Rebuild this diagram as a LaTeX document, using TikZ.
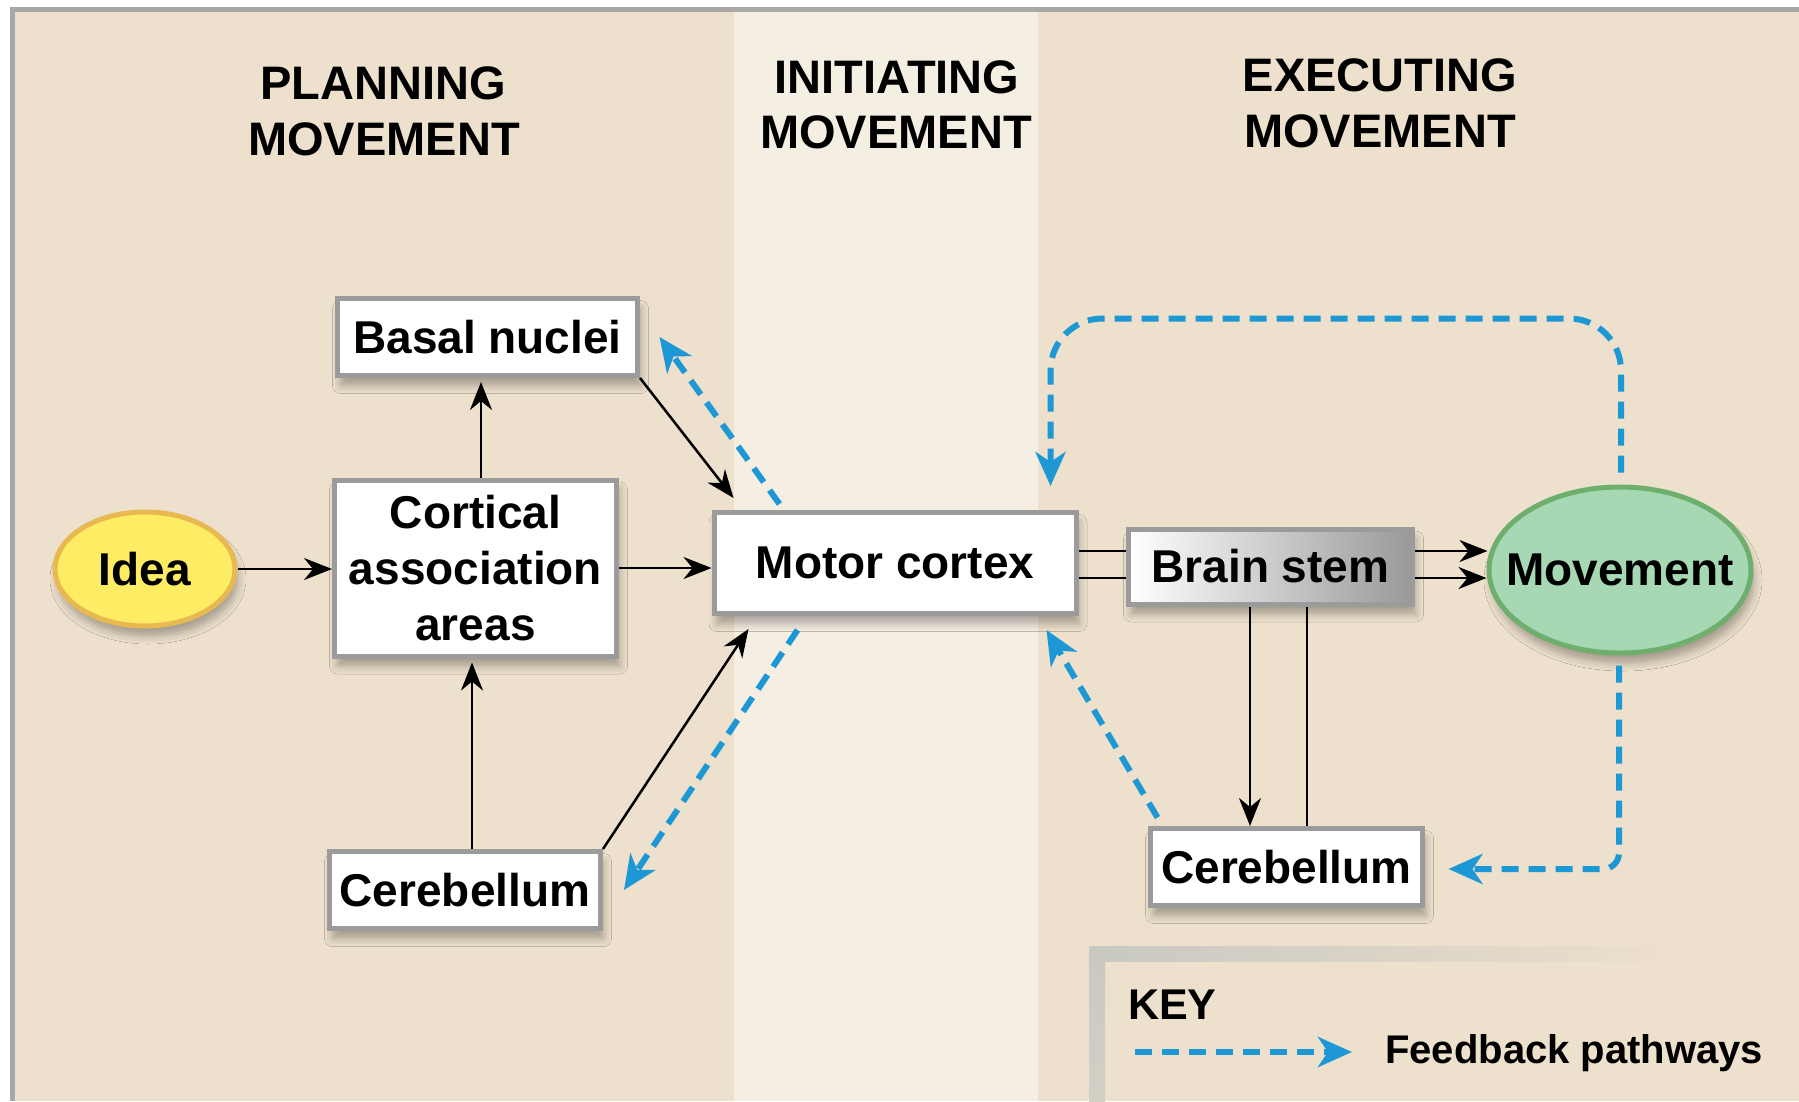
\documentclass[tikz,border=0pt]{standalone}
\usepackage{fontspec}
\setmainfont{Liberation Sans}
\usetikzlibrary{arrows.meta,calc,shapes.geometric,shadows.blur}
\definecolor{beige}{RGB}{237,224,204}
\definecolor{midpanel}{RGB}{245,238,226}
\definecolor{framegray}{RGB}{168,168,168}
\definecolor{boxgray}{RGB}{155,155,155}
\definecolor{fbblue}{RGB}{30,152,212}
\definecolor{ideafill}{RGB}{253,236,100}
\definecolor{ideaborder}{RGB}{232,185,80}
\definecolor{movefill}{RGB}{166,216,180}
\definecolor{moveborder}{RGB}{110,175,110}
\definecolor{keygray}{RGB}{200,200,194}
\begin{document}
\begin{tikzpicture}[x=1pt,y=-1pt,
  nodefont/.style={font=\bfseries\fontsize{46}{56}\selectfont},
  headfont/.style={font=\bfseries\fontsize{47}{56}\selectfont},
  shad/.style={blur shadow={shadow xshift=3pt,shadow yshift=-10pt,shadow blur radius=8pt,shadow opacity=30}},
  boxnode/.style={draw=boxgray,line width=5pt,fill=white,inner sep=0pt,nodefont,align=center,shad},
  arr/.style={black,line width=2.5pt,-{Stealth[length=28pt,width=22pt,inset=9pt]}},
  plainline/.style={black,line width=2.5pt},
  fb/.style={fbblue,line width=6pt,dash pattern=on 17pt off 10pt,-{Stealth[length=34pt,width=30pt,inset=10pt]}},
  headnode/.style={headfont,anchor=base,inner sep=0pt}
]
\useasboundingbox (0,0) rectangle (1799,1101);
% background
\fill[white] (0,0) rectangle (1799,1101);
\fill[beige] (10,7) rectangle (1799,1101);
\fill[midpanel] (734,12) rectangle (1038,1101);
\fill[framegray] (10,7) rectangle (1799,12);
\fill[framegray] (10,7) rectangle (15,1101);

% headers
\node[headnode] (h1a) at (383,99) {PLANNING};
\node[headnode] (h1b) at (384,155) {MOVEMENT};
\node[headnode] (h2a) at (897,93) {INITIATING};
\node[headnode] (h2b) at (896,148) {MOVEMENT};
\node[headnode] (h3a) at (1380,91) {EXECUTING};
\node[headnode] (h3b) at (1380,147) {MOVEMENT};

% nodes
\node[ellipse,draw=ideaborder,line width=5pt,fill=ideafill,minimum width=180pt,minimum height=114pt,inner sep=0pt,nodefont,shad] (idea) at (145,569) {\makebox[0pt]{Idea}};
\node[boxnode,minimum width=282pt,minimum height=176pt] (cortical) at (475.5,568) {Cortical\\association\\areas};
\node[boxnode,minimum width=300pt,minimum height=77pt] (basal) at (487.5,337) {Basal nuclei};
\node[boxnode,minimum width=271pt,minimum height=77pt] (cerebL) at (465,890) {Cerebellum};
\node[boxnode,minimum width=362pt,minimum height=101pt] (motor) at (895,563) {Motor cortex};
\node[boxnode,minimum width=284pt,minimum height=75pt,left color=white,right color=black!40] (brain) at (1270.5,566.5) {Brain stem};
\node[boxnode,minimum width=272pt,minimum height=77pt] (cerebR) at (1286.5,867) {Cerebellum};
\node[ellipse,draw=moveborder,line width=5pt,fill=movefill,minimum width=262pt,minimum height=166pt,inner sep=0pt,nodefont,shad] (movement) at (1620,570) {\makebox[0pt]{Movement}};

% black connectors
\draw[arr] (idea.east) -- (idea.east -| cortical.west);
\coordinate (c1) at ($(cortical.north)+(5.5,0)$);
\draw[arr] (c1) -- ($(c1 |- basal.south)+(0,4)$);
\draw[arr] (cortical.east) -- (cortical.east -| motor.west);
\coordinate (c2) at ($(cerebL.north)+(7,0)$);
\draw[arr] (c2) -- ($(c2 |- cortical.south)+(0,4)$);
\draw[arr] (basal.south east) -- ($(motor.north west)+(22,-12)$);
\draw[arr] (cerebL.north east) -- ($(motor.south west)+(37,13)$);

\coordinate (m1) at ($(brain.west)+(0,-15.5)$);
\coordinate (m2) at ($(brain.west)+(0,11.5)$);
\draw[plainline] (m1 -| motor.east) -- (m1);
\draw[plainline] (m2 -| motor.east) -- (m2);
\coordinate (b1) at ($(brain.east)+(0,-15.5)$);
\coordinate (b2) at ($(brain.east)+(0,11.5)$);
\draw[arr] (b1) -- ($(b1 -| movement.west)+(1,0)$);
\draw[arr] (b2) -- ($(b2 -| movement.west)+(0,0)$);

\coordinate (d1) at ($(brain.south)+(-20.5,0)$);
\coordinate (d2) at ($(brain.south)+(36.5,0)$);
\draw[arr] (d1) -- (d1 |- cerebR.north);
\draw[plainline] (d2 |- cerebR.north) -- (d2);

% feedback connectors
\draw[fb] ($(motor.north west)+(68,-6)$) -- ($(basal.east)+(19.5,0)$);
\draw[fb] ($(motor.south west)+(86,14)$) -- ($(cerebL.east)+(21,0)$);
\draw[fb] ($(cerebR.north west)+(9.5,-8.5)$) -- ($(motor.south east)+(-32,14)$);
\draw[fb,rounded corners=52pt] ($(movement.north)+(1,-12)$) -- ++(0,-154) -| ($(motor.north east)+(-28,-24)$);
\draw[fb,rounded corners=16pt] ($(movement.south)+(-1,10)$) |- ($(cerebR.east)+(23.5,2)$);

% key
\shade[left color=keygray,right color=beige] (1090,946) rectangle (1680,961);
\shade[top color=keygray,bottom color=keygray!70!beige] (1089,946) rectangle (1105,1101);
\node[font=\bfseries\fontsize{43}{50}\selectfont,anchor=base west,inner sep=0pt] (key) at (1128,1019) {KEY};
\coordinate (k1) at (1135,1052);
\coordinate (k2) at (1352,1052);
\draw[fb] (k1) -- (k2);
\node[font=\bfseries\fontsize{40}{48}\selectfont,anchor=base west,inner sep=0pt] (fbtext) at (1385,1063) {Feedback pathways};
\end{tikzpicture}
\end{document}
